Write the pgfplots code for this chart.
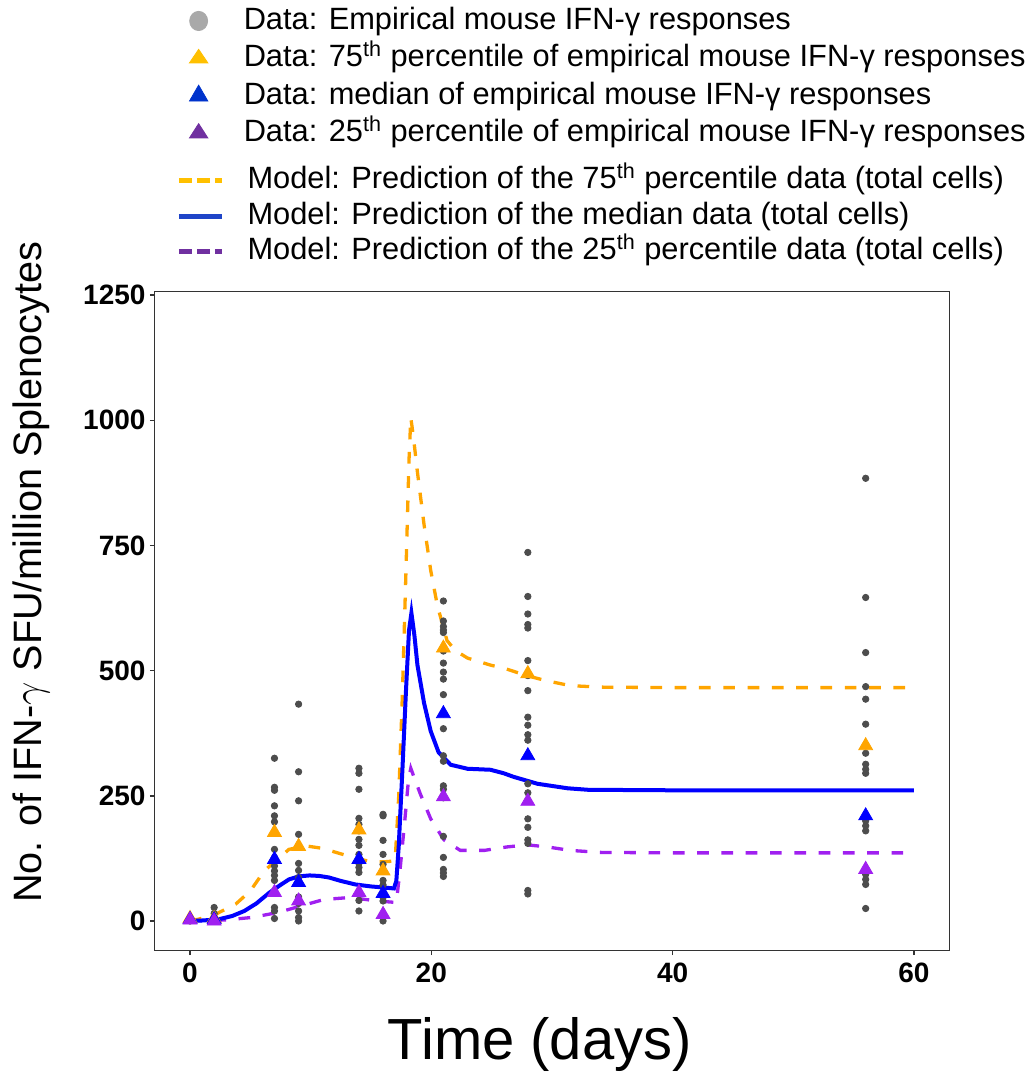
\documentclass[border=0pt]{standalone}
\usepackage{fontspec}
\setmainfont{Liberation Sans}
\usepackage{pgfplots}
\pgfplotsset{compat=1.18}
\definecolor{dotgray}{HTML}{4D4D4D}
\definecolor{lgray}{HTML}{A9A9A9}
\definecolor{porange}{HTML}{FFA500}
\definecolor{pblue}{HTML}{0000FF}
\definecolor{ppurple}{HTML}{A020F0}
\definecolor{lgold}{HTML}{FFC000}
\definecolor{lblue}{HTML}{0033CC}
\definecolor{lpurple}{HTML}{7030A0}
\definecolor{lblueline}{HTML}{1F45C8}
\pgfplotsset{
  mylegend/.style={
    legend style={draw=none, fill=none, inner sep=0pt,
      font=\fontsize{15.4}{15.4}\selectfont, row sep=0pt, column sep=11.5pt,
      nodes={inner sep=0pt}},
    legend cell align=left,
    legend image code/.code={\path (0pt,0pt) (21.7pt,0pt);\draw[mark repeat=2,mark phase=2,##1] plot coordinates {(0pt,0pt)(10.85pt,0pt)(21.7pt,0pt)};},
  }
}
\begin{document}
\begin{tikzpicture}
\begin{axis}[
  name=main,
  scale only axis, width=397.5pt, height=329.5pt,
  xmin=-2.96, xmax=62.93, ymin=-59.3, ymax=1256.6,
  xtick={0,20,40,60}, ytick={0,250,500,750,1000,1250},
  tick align=outside, tick pos=left, major tick length=2.2pt,
  axis line style={draw=black!80, line width=0.7pt},
  tick style={black!80, line width=0.7pt},
  ticklabel style={font=\fontsize{14}{14}\selectfont\bfseries},
  yticklabel style={inner xsep=2pt},
  xticklabel style={inner ysep=3.5pt},
  /pgf/number format/assume math mode=true,
  /pgf/number format/1000 sep={},
  xlabel={Time (days)},
  ylabel={No. of IFN-$\gamma$ SFU/million Splenocytes},
  xlabel style={font=\fontsize{29}{29}\selectfont, at={(axis description cs:0.485,-0.1416)}, anchor=center},
  ylabel style={font=\fontsize{19.8}{19.8}\selectfont, at={(axis description cs:-0.155,0.574)}, anchor=center},
  mylegend,
  legend style={at={(axis description cs:0.0275,1.4398)}, anchor=north west,
    nodes={text height=13.5pt, text depth=5.2pt}},
]
% legend images (data)
\addlegendimage{only marks, mark=*, lgray, mark size=4.5pt, mark options={yscale=1.07, draw=lgray, fill=lgray}}
\addlegendentry{Data: Empirical mouse IFN-γ responses}
\addlegendimage{only marks, mark=triangle*, lgold, mark size=5.3pt, mark options={yscale=0.85, draw=lgold, fill=lgold}}
\addlegendentry{Data: 75\textsuperscript{th} percentile of empirical mouse IFN-γ responses}
\addlegendimage{only marks, mark=triangle*, lblue, mark size=5.3pt, mark options={draw=lblue, fill=lblue}}
\addlegendentry{Data: median of empirical mouse IFN-γ responses}
\addlegendimage{only marks, mark=triangle*, lpurple, mark size=5.3pt, mark options={yscale=0.9, draw=lpurple, fill=lpurple}}
\addlegendentry{Data: 25\textsuperscript{th} percentile of empirical mouse IFN-γ responses}

% model curves
\addplot[forget plot, porange, line width=1.65pt, dash pattern=on 5.85pt off 6.3pt] coordinates {
(0,2) (0.6,3) (2,12) (3.8,34) (5,60) (6.15,100) (7,118) (8.2,143) (9.6,150) (11,145) (12.1,137) (13.5,127) (14.7,120) (16,118) (17,120) (17.3,250) (17.6,450) (17.9,700) (18.15,920) (18.3,1005) (18.5,970) (18.85,896) (19.4,791) (19.95,700) (20.5,630) (21.3,560) (22,540) (23,525) (24.9,511) (26,505) (27.9,490) (29.5,480) (31.5,470) (34,467) (40,466) (60,466)};
\addplot[forget plot, ppurple, line width=1.65pt, dash pattern=on 5.85pt off 6.3pt] coordinates {
(0,0) (2.9,2) (5.1,7) (7.3,17) (8.9,28) (11.1,43) (13.3,47) (15.5,40) (17.1,37) (17.4,100) (17.8,200) (18.1,280) (18.3,305) (18.6,285) (19.1,253) (19.95,204) (21.05,162) (22.4,141) (24.4,141) (26.3,148) (27.95,152) (29.6,148) (31.5,141) (34,137) (40,136) (60,136)};
\addplot[forget plot, pblue, line width=2pt] coordinates {
(0,0) (1,1) (2.3,3) (3.5,10) (4.5,20) (5.5,35) (6.6,57) (7.5,72) (8.2,83) (9,89) (9.9,91) (10.7,90) (11.5,87) (12.5,80) (13.7,73) (15,69) (16,67) (16.9,65) (17.1,80) (17.3,150) (17.6,300) (17.9,460) (18.15,580) (18.35,615) (18.6,570) (18.85,511) (19.4,435) (19.95,379) (20.6,337) (21.6,312) (23,304) (24.9,302) (26,295) (26.8,288) (28.8,274) (31.3,265) (33,262) (40,261) (60,261)};

% empirical data
\addplot[forget plot, only marks, mark=*, mark size=1.6pt, mark options={draw=dotgray, fill=dotgray}] coordinates {
(0,0) (0,5)
(2,27) (2,15) (2,5) (2,0)
(7,325) (7,267) (7,261) (7,230) (7,210) (7,198) (7,177) (7,143) (7,127) (7,110) (7,100) (7,91) (7,81) (7,60) (7,27) (7,20) (7,5)
(9,433) (9,298) (9,240) (9,173) (9,149) (9,115) (9,101) (9,87) (9,77) (9,48) (9,35) (9,20) (9,7) (9,0)
(14,305) (14,295) (14,263) (14,205) (14,193) (14,180) (14,163) (14,151) (14,133) (14,115) (14,107) (14,97) (14,53) (14,41) (14,20)
(16,213) (16,210) (16,161) (16,133) (16,113) (16,100) (16,81) (16,72) (16,55) (16,47) (16,40) (16,13) (16,0)
(21,639) (21,599) (21,588) (21,581) (21,576) (21,539) (21,515) (21,497) (21,483) (21,452) (21,414) (21,384) (21,330) (21,319) (21,270) (21,263) (21,246) (21,169) (21,127) (21,103) (21,96) (21,89)
(28,736) (28,648) (28,613) (28,592) (28,585) (28,520) (28,490) (28,460) (28,407) (28,391) (28,372) (28,361) (28,330) (28,274) (28,256) (28,239) (28,204) (28,187) (28,162) (28,155) (28,61) (28,54)
(56,884) (56,646) (56,536) (56,468) (56,443) (56,393) (56,350) (56,335) (56,313) (56,303) (56,295) (56,210) (56,200) (56,190) (56,180) (56,103) (56,93) (56,83) (56,73) (56,25)};

% percentile triangles
\addplot[forget plot, only marks, mark=triangle*, mark size=4pt, mark options={draw=porange, fill=porange}] coordinates {
(0,5) (2,5) (7,177) (9,149) (14,182) (16,100) (21,545) (28,494) (56,350)};
\addplot[forget plot, only marks, mark=triangle*, mark size=4pt, mark options={draw=pblue, fill=pblue}] coordinates {
(0,3) (2,3) (7,123) (9,77) (14,123) (16,55) (21,414) (28,330) (56,210)};
\addplot[forget plot, only marks, mark=triangle*, mark size=4pt, mark options={draw=ppurple, fill=ppurple}] coordinates {
(0,2) (2,0) (7,57) (9,40) (14,57) (16,13) (21,248) (28,239) (56,103)};
\end{axis}
% second (hidden) axis carrying the model legend
\begin{axis}[
  hide axis, scale only axis, width=397.5pt, height=329.5pt,
  xmin=0, xmax=1, ymin=0, ymax=1,
  mylegend,
  legend style={at={(axis description cs:0.0275,1.1959)}, anchor=north west,
    nodes={text height=12.9pt, text depth=4.85pt}},
]
\addlegendimage{lgold, line width=2.3pt, dash pattern=on 6.5pt off 2.5pt, no marks}
\addlegendentry{Model: Prediction of the 75\textsuperscript{th} percentile data (total cells)}
\addlegendimage{lblueline, line width=2.3pt, no marks}
\addlegendentry{Model: Prediction of the median data (total cells)}
\addlegendimage{lpurple, line width=2.3pt, dash pattern=on 6.5pt off 2.5pt, no marks}
\addlegendentry{Model: Prediction of the 25\textsuperscript{th} percentile data (total cells)}
\end{axis}
\pgfresetboundingbox
\path[use as bounding box] ([shift={(-77.15pt,-60.65pt)}]main.south west) rectangle ([shift={(42.35pt,145.85pt)}]main.north east);
\end{tikzpicture}
\end{document}
